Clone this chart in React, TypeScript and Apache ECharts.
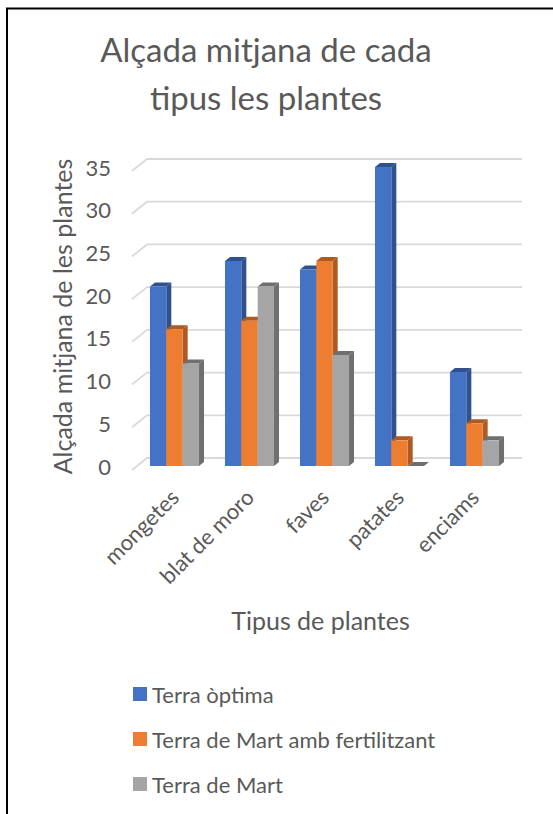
import React, { useEffect, useRef } from "react";
import * as echarts from "echarts";

const categories = ["mongetes", "blat de moro", "faves", "patates", "enciams"];
const seriesNames = ["Terra òptima", "Terra de Mart amb fertilitzant", "Terra de Mart"];
const terraOptima = [21, 24, 23, 35, 11];
const terraMartFert = [16, 17, 24, 3, 5];
const terraMart = [12, 21, 13, 0, 3];
const yTicks = [0, 5, 10, 15, 20, 25, 30, 35];

const frontColors = ["#4472C4", "#ED7D31", "#A5A5A5"];
const sideColors = ["#2F528F", "#AE5A21", "#6F6F6F"];

const FONT = "Lato, 'Open Sans', sans-serif";
const TXT = "#595959";

export default function App() {
  const ref = useRef<HTMLDivElement>(null);
  useEffect(() => {
    if (!ref.current) return;
    const chart = echarts.init(ref.current, undefined, { renderer: "svg" });
    const dx = 5;
    const dy = 4;
    const makeBar = (s: number) => (params: any, api: any) => {
      const idx = api.value(0);
      const v = api.value(1);
      const top = api.coord([idx, v]);
      const base = api.coord([idx, 0]);
      const band = api.size([1, 0])[0];
      const w = band * 0.218;
      const gw = 3 * w;
      const x = top[0] - gw / 2 + s * w;
      const yT = top[1];
      const yB = base[1];
      return {
        type: "group",
        children: [
          {
            type: "polygon",
            shape: { points: [[x + w, yT], [x + w + dx, yT - dy], [x + w + dx, yB - dy], [x + w, yB]] },
            style: { fill: sideColors[s] },
          },
          {
            type: "polygon",
            shape: { points: [[x, yT], [x + dx, yT - dy], [x + w + dx, yT - dy], [x + w, yT]] },
            style: { fill: sideColors[s] },
          },
          {
            type: "rect",
            shape: { x, y: yT, width: w, height: Math.max(0, yB - yT) },
            style: { fill: frontColors[s] },
          },
        ],
      };
    };
    const values = [terraOptima, terraMartFert, terraMart];
    const barSeries = values.map((vals, s) => ({
      type: "custom",
      name: seriesNames[s],
      z: 3,
      itemStyle: { color: frontColors[s] },
      renderItem: makeBar(s),
      data: vals.map((v, i) => [i, v]),
    }));
    const gridSeries = {
      type: "custom",
      name: "grid",
      z: 1,
      silent: true,
      renderItem: (params: any, api: any) => {
        const y = api.coord([0, api.value(1)])[1];
        const cs = params.coordSys;
        const x0 = cs.x;
        const x1 = cs.x + cs.width;
        return {
          type: "polyline",
          shape: { points: [[x0 - 5, y + 4], [x0 + 10, y - 8], [x1 + 10, y - 8]] },
          style: { stroke: "#D9D9D9", lineWidth: 1.8, fill: null },
        };
      },
      data: yTicks.map((v) => [0, v]),
    };
    chart.setOption({
      animation: false,
      textStyle: { fontFamily: FONT, color: TXT },
      title: {
        text: "Alçada mitjana de cada\ntipus les plantes",
        left: 261,
        textAlign: "center",
        top: 20,
        textStyle: { fontFamily: FONT, fontSize: 33, fontWeight: "normal", color: TXT, lineHeight: 48 },
      },
      grid: { left: 137, right: 41, top: 167, bottom: 348 },
      xAxis: {
        type: "category",
        data: categories,
        axisLine: { show: false },
        axisTick: { show: false },
        splitLine: { show: false },
        axisLabel: { rotate: 45, fontSize: 22, color: TXT, fontFamily: FONT, margin: 27, interval: 0 },
        name: "Tipus de plantes",
        nameLocation: "middle",
        nameGap: 141,
        nameTextStyle: { fontSize: 25, color: TXT, fontFamily: FONT, padding: [0, 8, 0, 0] },
      },
      yAxis: {
        type: "value",
        min: 0,
        max: 35,
        interval: 5,
        axisLine: { show: false },
        axisTick: { show: false },
        splitLine: { show: false },
        axisLabel: { fontSize: 22, color: TXT, fontFamily: FONT, margin: 26 },
        name: "Alçada mitjana de les plantes",
        nameLocation: "middle",
        nameGap: 61,
        nameTextStyle: { fontSize: 25, color: TXT, fontFamily: FONT },
      },
      legend: {
        data: seriesNames,
        orient: "vertical",
        left: 133,
        top: 683,
        padding: 0,
        itemWidth: 14,
        itemHeight: 14,
        itemGap: 23,
        icon: "rect",
        textStyle: { fontSize: 22, color: TXT, fontFamily: FONT, padding: [0, 0, 0, 0] },
      },
      graphic: [
        { type: "line", shape: { x1: 7, y1: 8, x2: 7, y2: 814 }, style: { stroke: "#000", lineWidth: 2 } },
        { type: "line", shape: { x1: 6, y1: 8.5, x2: 553, y2: 8.5 }, style: { stroke: "#000", lineWidth: 2 } },
      ],
      series: [gridSeries, ...barSeries],
    });
    return () => chart.dispose();
  }, []);
  return (
    <div
      ref={ref}
      style={{ position: "fixed", left: 0, top: 0, width: 553, height: 814, background: "#fff" }}
    />
  );
}
